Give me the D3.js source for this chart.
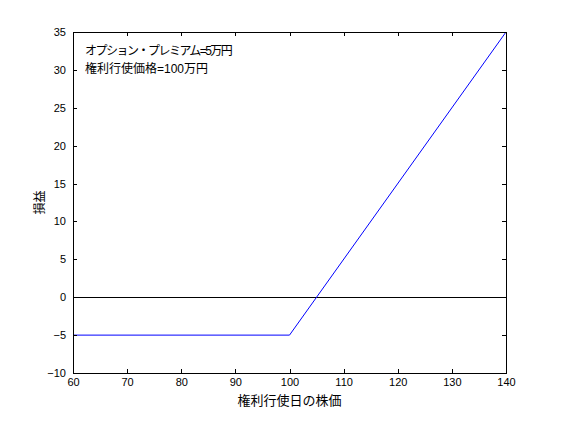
<!DOCTYPE html>
<html>
<head>
<meta charset="utf-8">
<script src="https://cdn.jsdelivr.net/npm/d3@7"></script>
<style>
  body { margin: 0; background: #fff; }
  text { font-family: "Liberation Sans", "Noto Sans CJK JP", sans-serif; fill: #000; }
</style>
</head>
<body>
<div id="chart"></div>
<script>
// payoff data (stock price on exercise date, profit/loss)
var prices = [60, 100, 140];
var profits = [-5, -5, 35];
var xTicks = [60, 70, 80, 90, 100, 110, 120, 130, 140];
var yTicks = [-10, -5, 0, 5, 10, 15, 20, 25, 30, 35];
var notes = ["オプション・プレミアム=5万円", "権利行使価格=100万円"];

var svgWidth = 561;
var svgHeight = 421;

var margin = { top: 32, right: 55, bottom: 48, left: 73 };
var width = svgWidth - margin.left - margin.right;
var height = svgHeight - margin.top - margin.bottom;

var svg = d3.select("#chart")
    .append("svg")
    .attr("width", svgWidth)
    .attr("height", svgHeight);

var chartGroup = svg.append("g")
    .attr("transform", `translate(${margin.left}, ${margin.top})`);

var xScale = d3.scaleLinear().domain([60, 140]).range([0, width]);
var yScale = d3.scaleLinear().domain([-10, 35]).range([height, 0]);

// zero line
chartGroup.append("line")
    .attr("x1", xScale(60)).attr("x2", xScale(140))
    .attr("y1", yScale(0)).attr("y2", yScale(0))
    .attr("stroke", "#000")
    .attr("stroke-width", 1)
    .attr("shape-rendering", "crispEdges");

// payoff line
var data = prices.map((p, i) => ({ x: p, y: profits[i] }));
chartGroup.append("path")
    .datum(data)
    .attr("fill", "none")
    .attr("stroke", "#0000ff")
    .attr("stroke-width", 1)
    .attr("d", d3.line().x(d => xScale(d.x)).y(d => yScale(d.y)));

// axes with inward ticks on all four sides
var tickLen = 4;
function styleAxis(g) {
    g.select(".domain").attr("stroke", "#000").attr("shape-rendering", "crispEdges");
    g.selectAll(".tick line").attr("stroke", "#000").attr("shape-rendering", "crispEdges");
    g.selectAll("text").style("font-size", "11px");
}

chartGroup.append("g")
    .attr("transform", `translate(0, ${height})`)
    .call(d3.axisBottom(xScale).tickValues(xTicks).tickSizeInner(-tickLen).tickSizeOuter(0).tickPadding(5))
    .call(styleAxis);

chartGroup.append("g")
    .call(d3.axisTop(xScale).tickValues(xTicks).tickSizeInner(-tickLen).tickSizeOuter(0).tickFormat(""))
    .call(styleAxis);

chartGroup.append("g")
    .call(d3.axisLeft(yScale).tickValues(yTicks).tickSizeInner(-tickLen).tickSizeOuter(0).tickPadding(7))
    .call(styleAxis);

chartGroup.append("g")
    .attr("transform", `translate(${width}, 0)`)
    .call(d3.axisRight(yScale).tickValues(yTicks).tickSizeInner(-tickLen).tickSizeOuter(0).tickFormat(""))
    .call(styleAxis);

// annotation text
chartGroup.selectAll(".note")
    .data(notes)
    .enter()
    .append("text")
    .attr("class", "note")
    .attr("x", 12)
    .attr("y", (d, i) => 23 + i * 18)
    .style("font-size", "12px")
    .style("letter-spacing", (d, i) => i === 0 ? "-1.5px" : "0px")
    .text(d => d);

// axis labels
svg.append("text")
    .attr("x", margin.left + width / 2)
    .attr("y", 405)
    .attr("text-anchor", "middle")
    .style("font-size", "13px")
    .text("権利行使日の株価");

svg.append("text")
    .attr("transform", `translate(44, ${margin.top + height / 2}) rotate(-90)`)
    .attr("text-anchor", "middle")
    .style("font-size", "12px")
    .text("損益");
</script>
</body>
</html>
